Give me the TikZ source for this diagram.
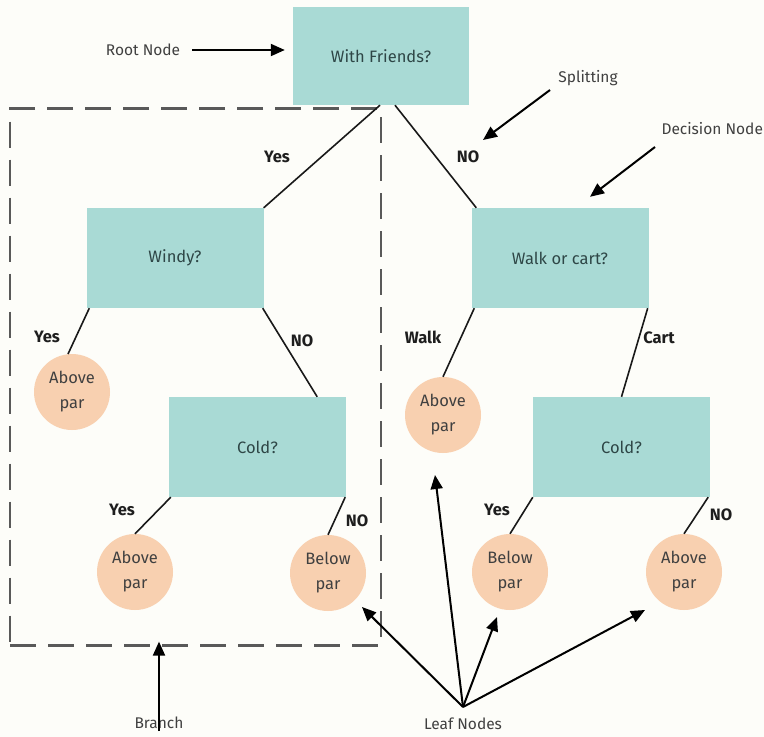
\documentclass[tikz,border=0pt]{standalone}
\usepackage{fontspec}
\setmainfont{Fira Sans}
\usetikzlibrary{arrows.meta}
\definecolor{boxfill}{HTML}{A9DAD5}
\definecolor{leaffill}{HTML}{F8D0B0}
\definecolor{paper}{HTML}{FDFDF9}
\definecolor{boxtext}{HTML}{2E4646}
\definecolor{inktext}{HTML}{1E1E1E}
\tikzset{
  decision/.style={rectangle, fill=boxfill, minimum width=177pt, minimum height=100pt,
    inner sep=0pt, text=boxtext, font=\fontsize{16.5}{19}\selectfont},
  leaf/.style={circle, fill=leaffill, minimum size=76pt, inner sep=0pt,
    align=center, text=inktext!85, font=\fontsize{16.5}{25}\selectfont},
  branchline/.style={line width=1.6pt, draw=black!90},
  edgelbl/.style={text=inktext, font=\fontsize{16.5}{19}\selectfont\bfseries},
  annot/.style={text=black!75, font=\fontsize{15.5}{18}\selectfont},
  pointer/.style={line width=2pt, -{Triangle[length=14pt,width=12pt]}},
}
\begin{document}
\begin{tikzpicture}[x=1pt,y=-1pt]
\useasboundingbox (0,0) rectangle (764,737);
\fill[paper] (0,0) rectangle (764,737);

% dashed outline of the left branch
\node[draw=black!65, dashed, dash pattern=on 26pt off 12pt, line width=2.2pt,
  minimum width=371pt, minimum height=537pt, inner sep=0pt] (branchbox) at (195.5,377) {};

% decision nodes
\node[decision, minimum width=176pt, minimum height=98pt] (root) at (381,56) {With Friends?};
\node[decision] (windy) at (175,258) {Windy?};
\node[decision] (walk) at (560,258) {Walk or cart?};
\node[decision] (coldL) at (257.5,447) {Cold?};
\node[decision] (coldR) at (621.5,447) {Cold?};

% leaf nodes
\node[leaf] (L1) at (72,392) {Above\\par};
\node[leaf] (L2) at (135,572) {Above\\par};
\node[leaf] (L3) at (328,573) {Below\\par};
\node[leaf] (L4) at (443,415) {Above\\par};
\node[leaf] (L5) at (510,572) {Below\\par};
\node[leaf] (L6) at (684,572) {Above\\par};

% branches
\draw[branchline] ([xshift=-1pt]root.south) -- (windy.north east);
\draw[branchline] ([xshift=14pt]root.south) -- ([xshift=5pt]walk.north west);
\draw[branchline] ([xshift=3pt]windy.south west) -- (L1.96);
\draw[branchline] ([xshift=-1pt]windy.south east) -- ([xshift=-29pt]coldL.north east);
\draw[branchline] ([xshift=2pt]coldL.south west) -- (L2.90);
\draw[branchline] ([xshift=-1pt]coldL.south east) -- (L3.90);
\draw[branchline] ([xshift=3pt]walk.south west) -- (L4.90);
\draw[branchline] ([xshift=-1pt]walk.south east) -- (coldR.north);
\draw[branchline] (coldR.south west) -- (L5.90);
\draw[branchline] ([xshift=-2pt]coldR.south east) -- (L6.90);

% branch labels
\node[edgelbl] (lyes0) at (277,157) {Yes};
\node[edgelbl] (lno0) at (468,157) {NO};
\node[edgelbl] (lyes1) at (47,337) {Yes};
\node[edgelbl] (lno1) at (302,341) {NO};
\node[edgelbl] (lyes2) at (122,510) {Yes};
\node[edgelbl] (lno2) at (357,521) {NO};
\node[edgelbl] (lwalk) at (423,337) {Walk};
\node[edgelbl] (lcart) at (659,338) {Cart};
\node[edgelbl] (lyes3) at (497,510) {Yes};
\node[edgelbl] (lno3) at (721,515) {NO};

% annotations
\node[annot] (rootlbl) at (143,50) {Root Node};
\node[annot] (splitlbl) at (588,78) {Splitting};
\node[annot, anchor=west] (declbl) at (658,129) {Decision Node};
\node[annot] (branchlbl) at (159,723) {Branch};
\node[annot] (leaflbl) at (463,724) {Leaf Nodes};

\coordinate (splitfrom) at (550,90);
\coordinate (splittip) at (483,140);
\coordinate (decfrom) at (655,147);
\coordinate (leafhub) at (463,707);

% pointers (unitless shifts follow the downward y axis)
\draw[pointer] (192,50 |- rootlbl.east) -- ([xshift=-8pt]root.west |- rootlbl.east);
\draw[pointer] (splitfrom) -- (splittip);
\draw[pointer] (decfrom) -- ([shift={(30,-11)}]walk.north);
\draw[pointer] ([yshift=-8pt]branchlbl.center) -- ([shift={(0,-5)}]branchbox.south -| branchlbl);
\draw[pointer] (leafhub) -- ([shift={(34,34)}]L3.center);
\draw[pointer] (leafhub) -- ([shift={(-8,60)}]L4.center);
\draw[pointer] (leafhub) -- ([shift={(-13,45)}]L5.center);
\draw[pointer] (leafhub) -- ([shift={(-39,38)}]L6.center);
\end{tikzpicture}
\end{document}
